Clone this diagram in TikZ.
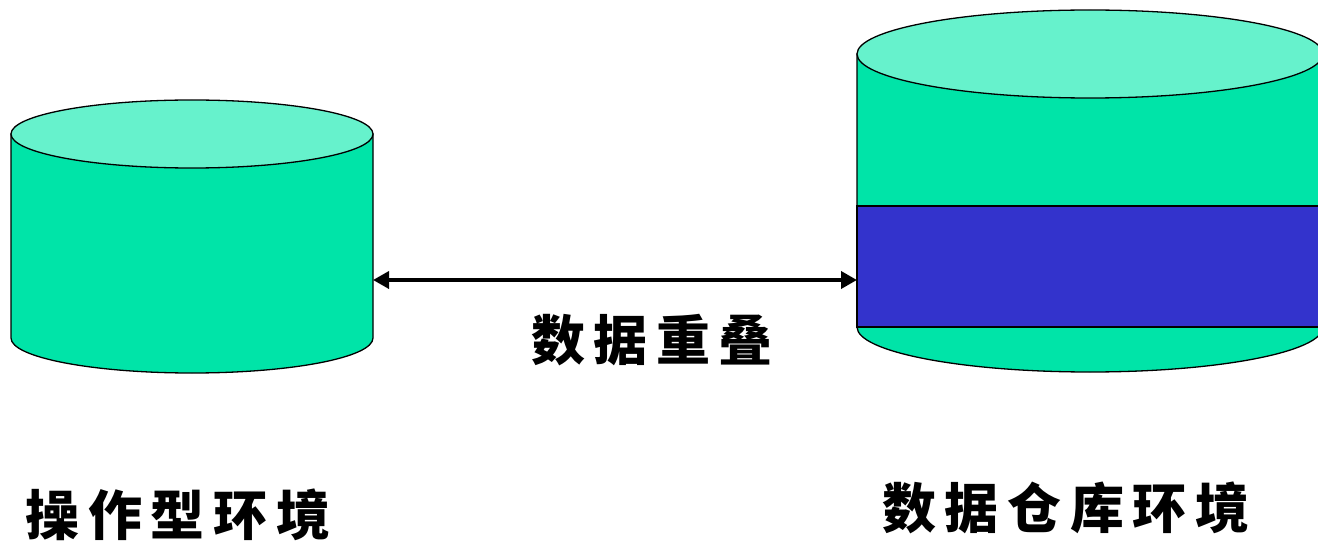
\documentclass[tikz,border=0pt]{standalone}
\usepackage{fontspec}
\newfontfamily\cjk[LetterSpace=16]{Noto Sans CJK SC}
\usetikzlibrary{arrows.meta}
\definecolor{dbtop}{RGB}{102,242,204}
\definecolor{dbbody}{RGB}{0,228,168}
\definecolor{dbband}{RGB}{51,51,204}
\begin{document}
\begin{tikzpicture}[x= 1pt, y= 1pt, line width= 1.3pt,
	label/.style= {font= \cjk\bfseries\fontsize{54pt}{54pt}\selectfont, inner sep= 0pt}]
	\clip(0, 0) rectangle (1318, 542);
	\fill[white](0, 0) rectangle (1318, 542);

	%操作型环境の円柱
	\filldraw[fill= dbbody](11, 408)-- (11, 204) arc [start angle= 180, end angle= 360, x radius= 181, y radius= 35]-- (373, 408)-- cycle; %胴体
	\filldraw[fill= dbtop](192, 408) ellipse [x radius= 181, y radius= 34]; %上面

	%数据仓库环境の円柱
	\filldraw[fill= dbbody](857, 488)-- (857, 215) arc [start angle= 180, end angle= 360, x radius= 233, y radius= 45]-- (1323, 488)-- cycle; %胴体
	\filldraw[fill= dbband](857, 336) rectangle (1323, 215); %重叠部分
	\filldraw[fill= dbtop](1090, 488) ellipse [x radius= 233, y radius= 44]; %上面

	\coordinate (opside) at (373, 262); %左円柱右端
	\coordinate (dwside) at (857, 262); %右円柱左端
	\draw[line width= 3.6pt, {Triangle[length= 16pt, width= 17pt]}-{Triangle[length= 16pt, width= 17pt]}](opside)-- (dwside);

	\node[label] (overlap) at (652, 202) {数据重叠};
	\node[label] (openv) at (178, 27) {操作型环境};
	\node[label] (dwenv) at (1066, 34) {数据仓库环境};
\end{tikzpicture}
\end{document}
